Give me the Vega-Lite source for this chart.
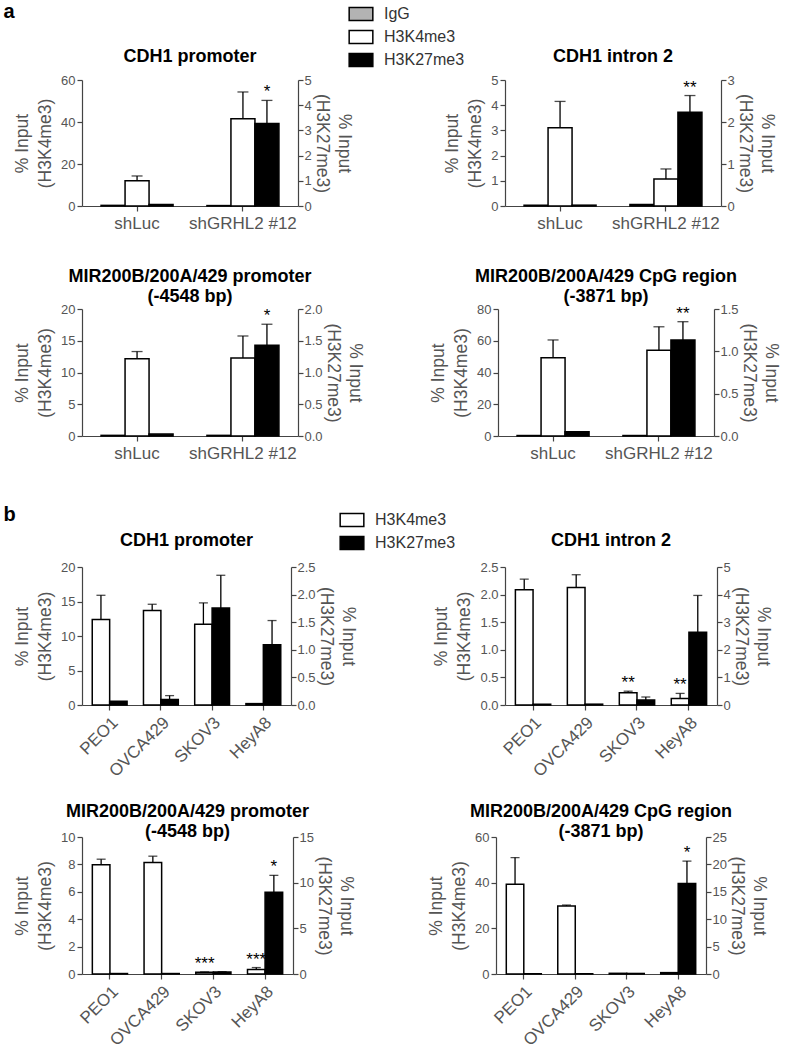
{
"$schema": "https://vega.github.io/schema/vega-lite/v6.json",
"padding": {"left": 3, "top": 1, "right": 0, "bottom": 5},
"config": {
  "font": "Liberation Sans",
  "view": {"stroke": null},
  "axis": {"grid": false, "labelColor": "#555", "titleColor": "#555", "titleFontWeight": "normal", "labelFontSize": 13, "titleFontSize": 17.5, "domainColor": "#444", "tickColor": "#444", "tickSize": 5, "domainWidth": 1.2, "tickWidth": 1.2, "titleLineHeight": 23, "titlePadding": 6},
  "axisRight": {"titlePadding": 1, "labelPadding": 1, "tickSize": 5, "titleLineHeight": 22},
  "axisX": {"labelFontSize": 17, "labelPadding": 4},
  "title": {"fontSize": 18, "fontWeight": "bold", "color": "#000", "lineHeight": 20},
  "text": {"color": "#000"}
},
"data": {"values": [
  {"panel":"a1","group":"shLuc","series":"IgG","v":0.3},
  {"panel":"a1","group":"shLuc","series":"H3K4me3","v":12,"hi":14.3},
  {"panel":"a1","group":"shLuc","series":"H3K27me3","v":0.06},
  {"panel":"a1","group":"shGRHL2 #12","series":"IgG","v":0.2},
  {"panel":"a1","group":"shGRHL2 #12","series":"H3K4me3","v":41.6,"hi":54.3},
  {"panel":"a1","group":"shGRHL2 #12","series":"H3K27me3","v":3.27,"hi":4.19,"star":"*"},
  {"panel":"a2","group":"shLuc","series":"IgG","v":0.03},
  {"panel":"a2","group":"shLuc","series":"H3K4me3","v":3.11,"hi":4.15},
  {"panel":"a2","group":"shLuc","series":"H3K27me3","v":0.02},
  {"panel":"a2","group":"shGRHL2 #12","series":"IgG","v":0.06},
  {"panel":"a2","group":"shGRHL2 #12","series":"H3K4me3","v":1.07,"hi":1.47},
  {"panel":"a2","group":"shGRHL2 #12","series":"H3K27me3","v":2.23,"hi":2.63,"star":"**"},
  {"panel":"a3","group":"shLuc","series":"IgG","v":0.1},
  {"panel":"a3","group":"shLuc","series":"H3K4me3","v":12.15,"hi":13.3},
  {"panel":"a3","group":"shLuc","series":"H3K27me3","v":0.03},
  {"panel":"a3","group":"shGRHL2 #12","series":"IgG","v":0.1},
  {"panel":"a3","group":"shGRHL2 #12","series":"H3K4me3","v":12.3,"hi":15.75},
  {"panel":"a3","group":"shGRHL2 #12","series":"H3K27me3","v":1.43,"hi":1.76,"star":"*"},
  {"panel":"a4","group":"shLuc","series":"IgG","v":0.3},
  {"panel":"a4","group":"shLuc","series":"H3K4me3","v":49.3,"hi":60.5},
  {"panel":"a4","group":"shLuc","series":"H3K27me3","v":0.05},
  {"panel":"a4","group":"shGRHL2 #12","series":"IgG","v":0.3},
  {"panel":"a4","group":"shGRHL2 #12","series":"H3K4me3","v":54,"hi":68.8},
  {"panel":"a4","group":"shGRHL2 #12","series":"H3K27me3","v":1.135,"hi":1.35,"star":"**"},
  {"panel":"b1","group":"PEO1","series":"H3K4me3","v":12.4,"hi":15.9},
  {"panel":"b1","group":"PEO1","series":"H3K27me3","v":0.067},
  {"panel":"b1","group":"OVCA429","series":"H3K4me3","v":13.7,"hi":14.6},
  {"panel":"b1","group":"OVCA429","series":"H3K27me3","v":0.1,"hi":0.17},
  {"panel":"b1","group":"SKOV3","series":"H3K4me3","v":11.7,"hi":14.8},
  {"panel":"b1","group":"SKOV3","series":"H3K27me3","v":1.755,"hi":2.35},
  {"panel":"b1","group":"HeyA8","series":"H3K4me3","v":0.2},
  {"panel":"b1","group":"HeyA8","series":"H3K27me3","v":1.09,"hi":1.53},
  {"panel":"b2","group":"PEO1","series":"H3K4me3","v":2.09,"hi":2.28},
  {"panel":"b2","group":"PEO1","series":"H3K27me3","v":0.03},
  {"panel":"b2","group":"OVCA429","series":"H3K4me3","v":2.13,"hi":2.36},
  {"panel":"b2","group":"OVCA429","series":"H3K27me3","v":0.03},
  {"panel":"b2","group":"SKOV3","series":"H3K4me3","v":0.22,"hi":0.25,"star":"**"},
  {"panel":"b2","group":"SKOV3","series":"H3K27me3","v":0.18,"hi":0.29},
  {"panel":"b2","group":"HeyA8","series":"H3K4me3","v":0.12,"hi":0.21,"star":"**"},
  {"panel":"b2","group":"HeyA8","series":"H3K27me3","v":2.64,"hi":3.97},
  {"panel":"b3","group":"PEO1","series":"H3K4me3","v":7.98,"hi":8.38},
  {"panel":"b3","group":"PEO1","series":"H3K27me3","v":0.05},
  {"panel":"b3","group":"OVCA429","series":"H3K4me3","v":8.13,"hi":8.6},
  {"panel":"b3","group":"OVCA429","series":"H3K27me3","v":0.05},
  {"panel":"b3","group":"SKOV3","series":"H3K4me3","v":0.12,"hi":0.15,"star":"***"},
  {"panel":"b3","group":"SKOV3","series":"H3K27me3","v":0.22,"hi":0.26},
  {"panel":"b3","group":"HeyA8","series":"H3K4me3","v":0.32,"hi":0.47,"star":"***"},
  {"panel":"b3","group":"HeyA8","series":"H3K27me3","v":8.96,"hi":10.8,"star":"*"},
  {"panel":"b4","group":"PEO1","series":"H3K4me3","v":39.3,"hi":51},
  {"panel":"b4","group":"PEO1","series":"H3K27me3","v":0.05},
  {"panel":"b4","group":"OVCA429","series":"H3K4me3","v":29.8,"hi":30.2},
  {"panel":"b4","group":"OVCA429","series":"H3K27me3","v":0.05},
  {"panel":"b4","group":"SKOV3","series":"H3K4me3","v":0.3},
  {"panel":"b4","group":"SKOV3","series":"H3K27me3","v":0.1},
  {"panel":"b4","group":"HeyA8","series":"H3K4me3","v":0.6},
  {"panel":"b4","group":"HeyA8","series":"H3K27me3","v":16.5,"hi":20.6,"star":"*"}
]},
"spacing": 44,
"resolve": {"scale": {"fill": "independent", "xOffset": "independent"}},
"vconcat": [
{
  "title": {"text": "a", "anchor": "start", "frame": "bounds", "dx": -10, "offset": -21, "fontSize": 20},
  "spacing": 37,
  "resolve": {"scale": {"xOffset": "independent"}},
  "vconcat": [
  {
    "spacing": 90,
    "resolve": {"scale": {"xOffset": "independent"}},
    "hconcat": [
    {
      "width": 216, "height": 126,
      "title": {"text": "CDH1 promoter", "offset": 8},
      "transform": [{"filter": "datum.panel === 'a1'"}],
      "encoding": {
        "x": {"field": "group", "type": "nominal", "scale": {"domain": ["shLuc", "shGRHL2 #12"], "paddingInner": 0.32, "paddingOuter": 0.18}, "axis": {"title": null, "labelAngle": 0}},
        "xOffset": {"field": "series", "type": "nominal", "scale": {"domain": ["IgG", "H3K4me3", "H3K27me3"]}}
      },
      "layer": [
        {"transform": [{"filter": "datum.series !== 'H3K27me3'"}],
         "layer": [
          {"mark": {"type": "bar", "stroke": "black", "strokeWidth": 1.5},
           "encoding": {"y": {"field": "v", "type": "quantitative", "scale": {"domain": [0, 60]}, "axis": {"orient": "left", "values": [0, 20, 40, 60], "title": ["% Input", "(H3K4me3)"]}},
             "fill": {"field": "series", "type": "nominal", "scale": {"domain": ["IgG", "H3K4me3", "H3K27me3"], "range": ["#b3b3b3", "#ffffff", "#000000"]},
               "legend": {"orient": "none", "legendX": 266, "legendY": -79, "title": null, "symbolType": "M-1,-0.55H1V0.55H-1Z", "symbolSize": 560, "labelFontSize": 16, "labelColor": "#333", "rowPadding": -2.5, "labelOffset": 10, "symbolOpacity": 1, "encode": {"symbols": {"update": {"stroke": {"value": "black"}, "strokeWidth": {"value": 1.5}}}}}}}},
          {"transform": [{"filter": "datum.hi != null"}], "mark": {"type": "rule", "color": "black", "strokeWidth": 1.3},
           "encoding": {"y": {"field": "v", "type": "quantitative", "scale": {"domain": [0, 60]}, "axis": {"orient": "left", "values": [0, 20, 40, 60], "title": ["% Input", "(H3K4me3)"]}}, "y2": {"field": "hi"}}},
          {"transform": [{"filter": "datum.hi != null"}], "mark": {"type": "tick", "color": "black", "size": 11, "thickness": 1.3},
           "encoding": {"y": {"field": "hi", "type": "quantitative", "scale": {"domain": [0, 60]}, "axis": {"orient": "left", "values": [0, 20, 40, 60], "title": ["% Input", "(H3K4me3)"]}}}},
          {"transform": [{"filter": "datum.star != null"}], "mark": {"type": "text", "fontSize": 17, "dy": -3, "baseline": "alphabetic"},
           "encoding": {"y": {"field": "hi", "type": "quantitative", "scale": {"domain": [0, 60]}, "axis": {"orient": "left", "values": [0, 20, 40, 60], "title": ["% Input", "(H3K4me3)"]}}, "text": {"field": "star"}}}
        ]},
        {"transform": [{"filter": "datum.series === 'H3K27me3'"}],
         "layer": [
          {"mark": {"type": "bar", "stroke": "black", "strokeWidth": 1.5},
           "encoding": {"y": {"field": "v", "type": "quantitative", "scale": {"domain": [0, 5]}, "axis": {"orient": "right", "values": [0, 1, 2, 3, 4, 5], "title": ["% Input", "(H3K27me3)"]}},
             "fill": {"field": "series", "type": "nominal", "scale": {"domain": ["IgG", "H3K4me3", "H3K27me3"], "range": ["#b3b3b3", "#ffffff", "#000000"]},
               "legend": {"orient": "none", "legendX": 266, "legendY": -79, "title": null, "symbolType": "M-1,-0.55H1V0.55H-1Z", "symbolSize": 560, "labelFontSize": 16, "labelColor": "#333", "rowPadding": -2.5, "labelOffset": 10, "symbolOpacity": 1, "encode": {"symbols": {"update": {"stroke": {"value": "black"}, "strokeWidth": {"value": 1.5}}}}}}}},
          {"transform": [{"filter": "datum.hi != null"}], "mark": {"type": "rule", "color": "black", "strokeWidth": 1.3},
           "encoding": {"y": {"field": "v", "type": "quantitative", "scale": {"domain": [0, 5]}, "axis": {"orient": "right", "values": [0, 1, 2, 3, 4, 5], "title": ["% Input", "(H3K27me3)"]}}, "y2": {"field": "hi"}}},
          {"transform": [{"filter": "datum.hi != null"}], "mark": {"type": "tick", "color": "black", "size": 11, "thickness": 1.3},
           "encoding": {"y": {"field": "hi", "type": "quantitative", "scale": {"domain": [0, 5]}, "axis": {"orient": "right", "values": [0, 1, 2, 3, 4, 5], "title": ["% Input", "(H3K27me3)"]}}}},
          {"transform": [{"filter": "datum.star != null"}], "mark": {"type": "text", "fontSize": 17, "dy": -3, "baseline": "alphabetic"},
           "encoding": {"y": {"field": "hi", "type": "quantitative", "scale": {"domain": [0, 5]}, "axis": {"orient": "right", "values": [0, 1, 2, 3, 4, 5], "title": ["% Input", "(H3K27me3)"]}}, "text": {"field": "star"}}}
        ]}
      ],
      "resolve": {"scale": {"y": "independent"}}
    },
    {
      "width": 216, "height": 126,
      "title": {"text": "CDH1 intron 2", "offset": 8},
      "transform": [{"filter": "datum.panel === 'a2'"}],
      "encoding": {
        "x": {"field": "group", "type": "nominal", "scale": {"domain": ["shLuc", "shGRHL2 #12"], "paddingInner": 0.32, "paddingOuter": 0.18}, "axis": {"title": null, "labelAngle": 0}},
        "xOffset": {"field": "series", "type": "nominal", "scale": {"domain": ["IgG", "H3K4me3", "H3K27me3"]}}
      },
      "layer": [
        {"transform": [{"filter": "datum.series !== 'H3K27me3'"}],
         "layer": [
          {"mark": {"type": "bar", "stroke": "black", "strokeWidth": 1.5},
           "encoding": {"y": {"field": "v", "type": "quantitative", "scale": {"domain": [0, 5]}, "axis": {"orient": "left", "values": [0, 1, 2, 3, 4, 5], "title": ["% Input", "(H3K4me3)"]}},
             "fill": {"field": "series", "type": "nominal", "scale": {"domain": ["IgG", "H3K4me3", "H3K27me3"], "range": ["#b3b3b3", "#ffffff", "#000000"]},
               "legend": {"orient": "none", "legendX": 266, "legendY": -79, "title": null, "symbolType": "M-1,-0.55H1V0.55H-1Z", "symbolSize": 560, "labelFontSize": 16, "labelColor": "#333", "rowPadding": -2.5, "labelOffset": 10, "symbolOpacity": 1, "encode": {"symbols": {"update": {"stroke": {"value": "black"}, "strokeWidth": {"value": 1.5}}}}}}}},
          {"transform": [{"filter": "datum.hi != null"}], "mark": {"type": "rule", "color": "black", "strokeWidth": 1.3},
           "encoding": {"y": {"field": "v", "type": "quantitative", "scale": {"domain": [0, 5]}, "axis": {"orient": "left", "values": [0, 1, 2, 3, 4, 5], "title": ["% Input", "(H3K4me3)"]}}, "y2": {"field": "hi"}}},
          {"transform": [{"filter": "datum.hi != null"}], "mark": {"type": "tick", "color": "black", "size": 11, "thickness": 1.3},
           "encoding": {"y": {"field": "hi", "type": "quantitative", "scale": {"domain": [0, 5]}, "axis": {"orient": "left", "values": [0, 1, 2, 3, 4, 5], "title": ["% Input", "(H3K4me3)"]}}}},
          {"transform": [{"filter": "datum.star != null"}], "mark": {"type": "text", "fontSize": 17, "dy": -3, "baseline": "alphabetic"},
           "encoding": {"y": {"field": "hi", "type": "quantitative", "scale": {"domain": [0, 5]}, "axis": {"orient": "left", "values": [0, 1, 2, 3, 4, 5], "title": ["% Input", "(H3K4me3)"]}}, "text": {"field": "star"}}}
        ]},
        {"transform": [{"filter": "datum.series === 'H3K27me3'"}],
         "layer": [
          {"mark": {"type": "bar", "stroke": "black", "strokeWidth": 1.5},
           "encoding": {"y": {"field": "v", "type": "quantitative", "scale": {"domain": [0, 3]}, "axis": {"orient": "right", "values": [0, 1, 2, 3], "title": ["% Input", "(H3K27me3)"]}},
             "fill": {"field": "series", "type": "nominal", "scale": {"domain": ["IgG", "H3K4me3", "H3K27me3"], "range": ["#b3b3b3", "#ffffff", "#000000"]},
               "legend": {"orient": "none", "legendX": 266, "legendY": -79, "title": null, "symbolType": "M-1,-0.55H1V0.55H-1Z", "symbolSize": 560, "labelFontSize": 16, "labelColor": "#333", "rowPadding": -2.5, "labelOffset": 10, "symbolOpacity": 1, "encode": {"symbols": {"update": {"stroke": {"value": "black"}, "strokeWidth": {"value": 1.5}}}}}}}},
          {"transform": [{"filter": "datum.hi != null"}], "mark": {"type": "rule", "color": "black", "strokeWidth": 1.3},
           "encoding": {"y": {"field": "v", "type": "quantitative", "scale": {"domain": [0, 3]}, "axis": {"orient": "right", "values": [0, 1, 2, 3], "title": ["% Input", "(H3K27me3)"]}}, "y2": {"field": "hi"}}},
          {"transform": [{"filter": "datum.hi != null"}], "mark": {"type": "tick", "color": "black", "size": 11, "thickness": 1.3},
           "encoding": {"y": {"field": "hi", "type": "quantitative", "scale": {"domain": [0, 3]}, "axis": {"orient": "right", "values": [0, 1, 2, 3], "title": ["% Input", "(H3K27me3)"]}}}},
          {"transform": [{"filter": "datum.star != null"}], "mark": {"type": "text", "fontSize": 17, "dy": -3, "baseline": "alphabetic"},
           "encoding": {"y": {"field": "hi", "type": "quantitative", "scale": {"domain": [0, 3]}, "axis": {"orient": "right", "values": [0, 1, 2, 3], "title": ["% Input", "(H3K27me3)"]}}, "text": {"field": "star"}}}
        ]}
      ],
      "resolve": {"scale": {"y": "independent"}}
    }
    ]
  },
  {
    "spacing": 65,
    "resolve": {"scale": {"xOffset": "independent"}},
    "hconcat": [
    {
      "width": 216, "height": 127,
      "title": {"text": ["MIR200B/200A/429 promoter", "(-4548 bp)"], "offset": -3},
      "transform": [{"filter": "datum.panel === 'a3'"}],
      "encoding": {
        "x": {"field": "group", "type": "nominal", "scale": {"domain": ["shLuc", "shGRHL2 #12"], "paddingInner": 0.32, "paddingOuter": 0.18}, "axis": {"title": null, "labelAngle": 0}},
        "xOffset": {"field": "series", "type": "nominal", "scale": {"domain": ["IgG", "H3K4me3", "H3K27me3"]}}
      },
      "layer": [
        {"transform": [{"filter": "datum.series !== 'H3K27me3'"}],
         "layer": [
          {"mark": {"type": "bar", "stroke": "black", "strokeWidth": 1.5},
           "encoding": {"y": {"field": "v", "type": "quantitative", "scale": {"domain": [0, 20]}, "axis": {"orient": "left", "values": [0, 5, 10, 15, 20], "title": ["% Input", "(H3K4me3)"]}},
             "fill": {"field": "series", "type": "nominal", "scale": {"domain": ["IgG", "H3K4me3", "H3K27me3"], "range": ["#b3b3b3", "#ffffff", "#000000"]},
               "legend": {"orient": "none", "legendX": 266, "legendY": -79, "title": null, "symbolType": "M-1,-0.55H1V0.55H-1Z", "symbolSize": 560, "labelFontSize": 16, "labelColor": "#333", "rowPadding": -2.5, "labelOffset": 10, "symbolOpacity": 1, "encode": {"symbols": {"update": {"stroke": {"value": "black"}, "strokeWidth": {"value": 1.5}}}}}}}},
          {"transform": [{"filter": "datum.hi != null"}], "mark": {"type": "rule", "color": "black", "strokeWidth": 1.3},
           "encoding": {"y": {"field": "v", "type": "quantitative", "scale": {"domain": [0, 20]}, "axis": {"orient": "left", "values": [0, 5, 10, 15, 20], "title": ["% Input", "(H3K4me3)"]}}, "y2": {"field": "hi"}}},
          {"transform": [{"filter": "datum.hi != null"}], "mark": {"type": "tick", "color": "black", "size": 11, "thickness": 1.3},
           "encoding": {"y": {"field": "hi", "type": "quantitative", "scale": {"domain": [0, 20]}, "axis": {"orient": "left", "values": [0, 5, 10, 15, 20], "title": ["% Input", "(H3K4me3)"]}}}},
          {"transform": [{"filter": "datum.star != null"}], "mark": {"type": "text", "fontSize": 17, "dy": -3, "baseline": "alphabetic"},
           "encoding": {"y": {"field": "hi", "type": "quantitative", "scale": {"domain": [0, 20]}, "axis": {"orient": "left", "values": [0, 5, 10, 15, 20], "title": ["% Input", "(H3K4me3)"]}}, "text": {"field": "star"}}}
        ]},
        {"transform": [{"filter": "datum.series === 'H3K27me3'"}],
         "layer": [
          {"mark": {"type": "bar", "stroke": "black", "strokeWidth": 1.5},
           "encoding": {"y": {"field": "v", "type": "quantitative", "scale": {"domain": [0, 2]}, "axis": {"orient": "right", "values": [0, 0.5, 1, 1.5, 2], "format": ".1f", "title": ["% Input", "(H3K27me3)"]}},
             "fill": {"field": "series", "type": "nominal", "scale": {"domain": ["IgG", "H3K4me3", "H3K27me3"], "range": ["#b3b3b3", "#ffffff", "#000000"]},
               "legend": {"orient": "none", "legendX": 266, "legendY": -79, "title": null, "symbolType": "M-1,-0.55H1V0.55H-1Z", "symbolSize": 560, "labelFontSize": 16, "labelColor": "#333", "rowPadding": -2.5, "labelOffset": 10, "symbolOpacity": 1, "encode": {"symbols": {"update": {"stroke": {"value": "black"}, "strokeWidth": {"value": 1.5}}}}}}}},
          {"transform": [{"filter": "datum.hi != null"}], "mark": {"type": "rule", "color": "black", "strokeWidth": 1.3},
           "encoding": {"y": {"field": "v", "type": "quantitative", "scale": {"domain": [0, 2]}, "axis": {"orient": "right", "values": [0, 0.5, 1, 1.5, 2], "format": ".1f", "title": ["% Input", "(H3K27me3)"]}}, "y2": {"field": "hi"}}},
          {"transform": [{"filter": "datum.hi != null"}], "mark": {"type": "tick", "color": "black", "size": 11, "thickness": 1.3},
           "encoding": {"y": {"field": "hi", "type": "quantitative", "scale": {"domain": [0, 2]}, "axis": {"orient": "right", "values": [0, 0.5, 1, 1.5, 2], "format": ".1f", "title": ["% Input", "(H3K27me3)"]}}}},
          {"transform": [{"filter": "datum.star != null"}], "mark": {"type": "text", "fontSize": 17, "dy": -3, "baseline": "alphabetic"},
           "encoding": {"y": {"field": "hi", "type": "quantitative", "scale": {"domain": [0, 2]}, "axis": {"orient": "right", "values": [0, 0.5, 1, 1.5, 2], "format": ".1f", "title": ["% Input", "(H3K27me3)"]}}, "text": {"field": "star"}}}
        ]}
      ],
      "resolve": {"scale": {"y": "independent"}}
    },
    {
      "width": 216, "height": 127,
      "title": {"text": ["MIR200B/200A/429 CpG region", "(-3871 bp)"], "offset": -3},
      "transform": [{"filter": "datum.panel === 'a4'"}],
      "encoding": {
        "x": {"field": "group", "type": "nominal", "scale": {"domain": ["shLuc", "shGRHL2 #12"], "paddingInner": 0.32, "paddingOuter": 0.18}, "axis": {"title": null, "labelAngle": 0}},
        "xOffset": {"field": "series", "type": "nominal", "scale": {"domain": ["IgG", "H3K4me3", "H3K27me3"]}}
      },
      "layer": [
        {"transform": [{"filter": "datum.series !== 'H3K27me3'"}],
         "layer": [
          {"mark": {"type": "bar", "stroke": "black", "strokeWidth": 1.5},
           "encoding": {"y": {"field": "v", "type": "quantitative", "scale": {"domain": [0, 80]}, "axis": {"orient": "left", "values": [0, 20, 40, 60, 80], "title": ["% Input", "(H3K4me3)"]}},
             "fill": {"field": "series", "type": "nominal", "scale": {"domain": ["IgG", "H3K4me3", "H3K27me3"], "range": ["#b3b3b3", "#ffffff", "#000000"]},
               "legend": {"orient": "none", "legendX": 266, "legendY": -79, "title": null, "symbolType": "M-1,-0.55H1V0.55H-1Z", "symbolSize": 560, "labelFontSize": 16, "labelColor": "#333", "rowPadding": -2.5, "labelOffset": 10, "symbolOpacity": 1, "encode": {"symbols": {"update": {"stroke": {"value": "black"}, "strokeWidth": {"value": 1.5}}}}}}}},
          {"transform": [{"filter": "datum.hi != null"}], "mark": {"type": "rule", "color": "black", "strokeWidth": 1.3},
           "encoding": {"y": {"field": "v", "type": "quantitative", "scale": {"domain": [0, 80]}, "axis": {"orient": "left", "values": [0, 20, 40, 60, 80], "title": ["% Input", "(H3K4me3)"]}}, "y2": {"field": "hi"}}},
          {"transform": [{"filter": "datum.hi != null"}], "mark": {"type": "tick", "color": "black", "size": 11, "thickness": 1.3},
           "encoding": {"y": {"field": "hi", "type": "quantitative", "scale": {"domain": [0, 80]}, "axis": {"orient": "left", "values": [0, 20, 40, 60, 80], "title": ["% Input", "(H3K4me3)"]}}}},
          {"transform": [{"filter": "datum.star != null"}], "mark": {"type": "text", "fontSize": 17, "dy": -3, "baseline": "alphabetic"},
           "encoding": {"y": {"field": "hi", "type": "quantitative", "scale": {"domain": [0, 80]}, "axis": {"orient": "left", "values": [0, 20, 40, 60, 80], "title": ["% Input", "(H3K4me3)"]}}, "text": {"field": "star"}}}
        ]},
        {"transform": [{"filter": "datum.series === 'H3K27me3'"}],
         "layer": [
          {"mark": {"type": "bar", "stroke": "black", "strokeWidth": 1.5},
           "encoding": {"y": {"field": "v", "type": "quantitative", "scale": {"domain": [0, 1.5]}, "axis": {"orient": "right", "values": [0, 0.5, 1, 1.5], "format": ".1f", "title": ["% Input", "(H3K27me3)"]}},
             "fill": {"field": "series", "type": "nominal", "scale": {"domain": ["IgG", "H3K4me3", "H3K27me3"], "range": ["#b3b3b3", "#ffffff", "#000000"]},
               "legend": {"orient": "none", "legendX": 266, "legendY": -79, "title": null, "symbolType": "M-1,-0.55H1V0.55H-1Z", "symbolSize": 560, "labelFontSize": 16, "labelColor": "#333", "rowPadding": -2.5, "labelOffset": 10, "symbolOpacity": 1, "encode": {"symbols": {"update": {"stroke": {"value": "black"}, "strokeWidth": {"value": 1.5}}}}}}}},
          {"transform": [{"filter": "datum.hi != null"}], "mark": {"type": "rule", "color": "black", "strokeWidth": 1.3},
           "encoding": {"y": {"field": "v", "type": "quantitative", "scale": {"domain": [0, 1.5]}, "axis": {"orient": "right", "values": [0, 0.5, 1, 1.5], "format": ".1f", "title": ["% Input", "(H3K27me3)"]}}, "y2": {"field": "hi"}}},
          {"transform": [{"filter": "datum.hi != null"}], "mark": {"type": "tick", "color": "black", "size": 11, "thickness": 1.3},
           "encoding": {"y": {"field": "hi", "type": "quantitative", "scale": {"domain": [0, 1.5]}, "axis": {"orient": "right", "values": [0, 0.5, 1, 1.5], "format": ".1f", "title": ["% Input", "(H3K27me3)"]}}}},
          {"transform": [{"filter": "datum.star != null"}], "mark": {"type": "text", "fontSize": 17, "dy": -3, "baseline": "alphabetic"},
           "encoding": {"y": {"field": "hi", "type": "quantitative", "scale": {"domain": [0, 1.5]}, "axis": {"orient": "right", "values": [0, 0.5, 1, 1.5], "format": ".1f", "title": ["% Input", "(H3K27me3)"]}}, "text": {"field": "star"}}}
        ]}
      ],
      "resolve": {"scale": {"y": "independent"}}
    }
    ]
  }
  ]
},
{
  "title": {"text": "b", "anchor": "start", "frame": "bounds", "dx": -10, "offset": -18, "fontSize": 20},
  "spacing": 23,
  "resolve": {"scale": {"xOffset": "independent"}},
  "vconcat": [
  {
    "spacing": 75,
    "resolve": {"scale": {"xOffset": "independent"}},
    "hconcat": [
    {
      "width": 209, "height": 138,
      "title": {"text": "CDH1 promoter", "offset": 11},
      "transform": [{"filter": "datum.panel === 'b1'"}],
      "encoding": {
        "x": {"field": "group", "type": "nominal", "scale": {"domain": ["PEO1", "OVCA429", "SKOV3", "HeyA8"], "paddingInner": 0.32, "paddingOuter": 0.2}, "axis": {"title": null, "labelAngle": -45}},
        "xOffset": {"field": "series", "type": "nominal", "scale": {"domain": ["H3K4me3", "H3K27me3"]}}
      },
      "layer": [
        {"transform": [{"filter": "datum.series !== 'H3K27me3'"}],
         "layer": [
          {"mark": {"type": "bar", "stroke": "black", "strokeWidth": 1.5},
           "encoding": {"y": {"field": "v", "type": "quantitative", "scale": {"domain": [0, 20]}, "axis": {"orient": "left", "values": [0, 5, 10, 15, 20], "title": ["% Input", "(H3K4me3)"]}},
             "fill": {"field": "series", "type": "nominal", "scale": {"domain": ["H3K4me3", "H3K27me3"], "range": ["#ffffff", "#000000"]},
               "legend": {"orient": "none", "legendX": 257, "legendY": -60, "title": null, "symbolType": "M-1,-0.55H1V0.55H-1Z", "symbolSize": 560, "labelFontSize": 16, "labelColor": "#333", "rowPadding": -2.5, "labelOffset": 10, "symbolOpacity": 1, "encode": {"symbols": {"update": {"stroke": {"value": "black"}, "strokeWidth": {"value": 1.5}}}}}}}},
          {"transform": [{"filter": "datum.hi != null"}], "mark": {"type": "rule", "color": "black", "strokeWidth": 1.3},
           "encoding": {"y": {"field": "v", "type": "quantitative", "scale": {"domain": [0, 20]}, "axis": {"orient": "left", "values": [0, 5, 10, 15, 20], "title": ["% Input", "(H3K4me3)"]}}, "y2": {"field": "hi"}}},
          {"transform": [{"filter": "datum.hi != null"}], "mark": {"type": "tick", "color": "black", "size": 9, "thickness": 1.3},
           "encoding": {"y": {"field": "hi", "type": "quantitative", "scale": {"domain": [0, 20]}, "axis": {"orient": "left", "values": [0, 5, 10, 15, 20], "title": ["% Input", "(H3K4me3)"]}}}},
          {"transform": [{"filter": "datum.star != null"}], "mark": {"type": "text", "fontSize": 17, "dy": -3, "baseline": "alphabetic"},
           "encoding": {"y": {"field": "hi", "type": "quantitative", "scale": {"domain": [0, 20]}, "axis": {"orient": "left", "values": [0, 5, 10, 15, 20], "title": ["% Input", "(H3K4me3)"]}}, "text": {"field": "star"}}}
        ]},
        {"transform": [{"filter": "datum.series === 'H3K27me3'"}],
         "layer": [
          {"mark": {"type": "bar", "stroke": "black", "strokeWidth": 1.5},
           "encoding": {"y": {"field": "v", "type": "quantitative", "scale": {"domain": [0, 2.5]}, "axis": {"orient": "right", "values": [0, 0.5, 1, 1.5, 2, 2.5], "format": ".1f", "title": ["% Input", "(H3K27me3)"]}},
             "fill": {"field": "series", "type": "nominal", "scale": {"domain": ["H3K4me3", "H3K27me3"], "range": ["#ffffff", "#000000"]},
               "legend": {"orient": "none", "legendX": 257, "legendY": -60, "title": null, "symbolType": "M-1,-0.55H1V0.55H-1Z", "symbolSize": 560, "labelFontSize": 16, "labelColor": "#333", "rowPadding": -2.5, "labelOffset": 10, "symbolOpacity": 1, "encode": {"symbols": {"update": {"stroke": {"value": "black"}, "strokeWidth": {"value": 1.5}}}}}}}},
          {"transform": [{"filter": "datum.hi != null"}], "mark": {"type": "rule", "color": "black", "strokeWidth": 1.3},
           "encoding": {"y": {"field": "v", "type": "quantitative", "scale": {"domain": [0, 2.5]}, "axis": {"orient": "right", "values": [0, 0.5, 1, 1.5, 2, 2.5], "format": ".1f", "title": ["% Input", "(H3K27me3)"]}}, "y2": {"field": "hi"}}},
          {"transform": [{"filter": "datum.hi != null"}], "mark": {"type": "tick", "color": "black", "size": 9, "thickness": 1.3},
           "encoding": {"y": {"field": "hi", "type": "quantitative", "scale": {"domain": [0, 2.5]}, "axis": {"orient": "right", "values": [0, 0.5, 1, 1.5, 2, 2.5], "format": ".1f", "title": ["% Input", "(H3K27me3)"]}}}},
          {"transform": [{"filter": "datum.star != null"}], "mark": {"type": "text", "fontSize": 17, "dy": -3, "baseline": "alphabetic"},
           "encoding": {"y": {"field": "hi", "type": "quantitative", "scale": {"domain": [0, 2.5]}, "axis": {"orient": "right", "values": [0, 0.5, 1, 1.5, 2, 2.5], "format": ".1f", "title": ["% Input", "(H3K27me3)"]}}, "text": {"field": "star"}}}
        ]}
      ],
      "resolve": {"scale": {"y": "independent"}}
    },
    {
      "width": 212, "height": 138,
      "title": {"text": "CDH1 intron 2", "offset": 11},
      "transform": [{"filter": "datum.panel === 'b2'"}],
      "encoding": {
        "x": {"field": "group", "type": "nominal", "scale": {"domain": ["PEO1", "OVCA429", "SKOV3", "HeyA8"], "paddingInner": 0.32, "paddingOuter": 0.2}, "axis": {"title": null, "labelAngle": -45}},
        "xOffset": {"field": "series", "type": "nominal", "scale": {"domain": ["H3K4me3", "H3K27me3"]}}
      },
      "layer": [
        {"transform": [{"filter": "datum.series !== 'H3K27me3'"}],
         "layer": [
          {"mark": {"type": "bar", "stroke": "black", "strokeWidth": 1.5},
           "encoding": {"y": {"field": "v", "type": "quantitative", "scale": {"domain": [0, 2.5]}, "axis": {"orient": "left", "values": [0, 0.5, 1, 1.5, 2, 2.5], "format": ".1f", "title": ["% Input", "(H3K4me3)"]}},
             "fill": {"field": "series", "type": "nominal", "scale": {"domain": ["H3K4me3", "H3K27me3"], "range": ["#ffffff", "#000000"]},
               "legend": {"orient": "none", "legendX": 257, "legendY": -60, "title": null, "symbolType": "M-1,-0.55H1V0.55H-1Z", "symbolSize": 560, "labelFontSize": 16, "labelColor": "#333", "rowPadding": -2.5, "labelOffset": 10, "symbolOpacity": 1, "encode": {"symbols": {"update": {"stroke": {"value": "black"}, "strokeWidth": {"value": 1.5}}}}}}}},
          {"transform": [{"filter": "datum.hi != null"}], "mark": {"type": "rule", "color": "black", "strokeWidth": 1.3},
           "encoding": {"y": {"field": "v", "type": "quantitative", "scale": {"domain": [0, 2.5]}, "axis": {"orient": "left", "values": [0, 0.5, 1, 1.5, 2, 2.5], "format": ".1f", "title": ["% Input", "(H3K4me3)"]}}, "y2": {"field": "hi"}}},
          {"transform": [{"filter": "datum.hi != null"}], "mark": {"type": "tick", "color": "black", "size": 9, "thickness": 1.3},
           "encoding": {"y": {"field": "hi", "type": "quantitative", "scale": {"domain": [0, 2.5]}, "axis": {"orient": "left", "values": [0, 0.5, 1, 1.5, 2, 2.5], "format": ".1f", "title": ["% Input", "(H3K4me3)"]}}}},
          {"transform": [{"filter": "datum.star != null"}], "mark": {"type": "text", "fontSize": 17, "dy": -3, "baseline": "alphabetic"},
           "encoding": {"y": {"field": "hi", "type": "quantitative", "scale": {"domain": [0, 2.5]}, "axis": {"orient": "left", "values": [0, 0.5, 1, 1.5, 2, 2.5], "format": ".1f", "title": ["% Input", "(H3K4me3)"]}}, "text": {"field": "star"}}}
        ]},
        {"transform": [{"filter": "datum.series === 'H3K27me3'"}],
         "layer": [
          {"mark": {"type": "bar", "stroke": "black", "strokeWidth": 1.5},
           "encoding": {"y": {"field": "v", "type": "quantitative", "scale": {"domain": [0, 5]}, "axis": {"orient": "right", "values": [0, 1, 2, 3, 4, 5], "title": ["% Input", "(H3K27me3)"]}},
             "fill": {"field": "series", "type": "nominal", "scale": {"domain": ["H3K4me3", "H3K27me3"], "range": ["#ffffff", "#000000"]},
               "legend": {"orient": "none", "legendX": 257, "legendY": -60, "title": null, "symbolType": "M-1,-0.55H1V0.55H-1Z", "symbolSize": 560, "labelFontSize": 16, "labelColor": "#333", "rowPadding": -2.5, "labelOffset": 10, "symbolOpacity": 1, "encode": {"symbols": {"update": {"stroke": {"value": "black"}, "strokeWidth": {"value": 1.5}}}}}}}},
          {"transform": [{"filter": "datum.hi != null"}], "mark": {"type": "rule", "color": "black", "strokeWidth": 1.3},
           "encoding": {"y": {"field": "v", "type": "quantitative", "scale": {"domain": [0, 5]}, "axis": {"orient": "right", "values": [0, 1, 2, 3, 4, 5], "title": ["% Input", "(H3K27me3)"]}}, "y2": {"field": "hi"}}},
          {"transform": [{"filter": "datum.hi != null"}], "mark": {"type": "tick", "color": "black", "size": 9, "thickness": 1.3},
           "encoding": {"y": {"field": "hi", "type": "quantitative", "scale": {"domain": [0, 5]}, "axis": {"orient": "right", "values": [0, 1, 2, 3, 4, 5], "title": ["% Input", "(H3K27me3)"]}}}},
          {"transform": [{"filter": "datum.star != null"}], "mark": {"type": "text", "fontSize": 17, "dy": -3, "baseline": "alphabetic"},
           "encoding": {"y": {"field": "hi", "type": "quantitative", "scale": {"domain": [0, 5]}, "axis": {"orient": "right", "values": [0, 1, 2, 3, 4, 5], "title": ["% Input", "(H3K27me3)"]}}, "text": {"field": "star"}}}
        ]}
      ],
      "resolve": {"scale": {"y": "independent"}}
    }
    ]
  },
  {
    "spacing": 72,
    "resolve": {"scale": {"xOffset": "independent"}},
    "hconcat": [
    {
      "width": 211, "height": 137,
      "title": {"text": ["MIR200B/200A/429 promoter", "(-4548 bp)"], "offset": -10},
      "transform": [{"filter": "datum.panel === 'b3'"}],
      "encoding": {
        "x": {"field": "group", "type": "nominal", "scale": {"domain": ["PEO1", "OVCA429", "SKOV3", "HeyA8"], "paddingInner": 0.32, "paddingOuter": 0.2}, "axis": {"title": null, "labelAngle": -45}},
        "xOffset": {"field": "series", "type": "nominal", "scale": {"domain": ["H3K4me3", "H3K27me3"]}}
      },
      "layer": [
        {"transform": [{"filter": "datum.series !== 'H3K27me3'"}],
         "layer": [
          {"mark": {"type": "bar", "stroke": "black", "strokeWidth": 1.5},
           "encoding": {"y": {"field": "v", "type": "quantitative", "scale": {"domain": [0, 10]}, "axis": {"orient": "left", "values": [0, 2, 4, 6, 8, 10], "title": ["% Input", "(H3K4me3)"]}},
             "fill": {"field": "series", "type": "nominal", "scale": {"domain": ["H3K4me3", "H3K27me3"], "range": ["#ffffff", "#000000"]},
               "legend": {"orient": "none", "legendX": 257, "legendY": -60, "title": null, "symbolType": "M-1,-0.55H1V0.55H-1Z", "symbolSize": 560, "labelFontSize": 16, "labelColor": "#333", "rowPadding": -2.5, "labelOffset": 10, "symbolOpacity": 1, "encode": {"symbols": {"update": {"stroke": {"value": "black"}, "strokeWidth": {"value": 1.5}}}}}}}},
          {"transform": [{"filter": "datum.hi != null"}], "mark": {"type": "rule", "color": "black", "strokeWidth": 1.3},
           "encoding": {"y": {"field": "v", "type": "quantitative", "scale": {"domain": [0, 10]}, "axis": {"orient": "left", "values": [0, 2, 4, 6, 8, 10], "title": ["% Input", "(H3K4me3)"]}}, "y2": {"field": "hi"}}},
          {"transform": [{"filter": "datum.hi != null"}], "mark": {"type": "tick", "color": "black", "size": 9, "thickness": 1.3},
           "encoding": {"y": {"field": "hi", "type": "quantitative", "scale": {"domain": [0, 10]}, "axis": {"orient": "left", "values": [0, 2, 4, 6, 8, 10], "title": ["% Input", "(H3K4me3)"]}}}},
          {"transform": [{"filter": "datum.star != null"}], "mark": {"type": "text", "fontSize": 17, "dy": -3, "baseline": "alphabetic"},
           "encoding": {"y": {"field": "hi", "type": "quantitative", "scale": {"domain": [0, 10]}, "axis": {"orient": "left", "values": [0, 2, 4, 6, 8, 10], "title": ["% Input", "(H3K4me3)"]}}, "text": {"field": "star"}}}
        ]},
        {"transform": [{"filter": "datum.series === 'H3K27me3'"}],
         "layer": [
          {"mark": {"type": "bar", "stroke": "black", "strokeWidth": 1.5},
           "encoding": {"y": {"field": "v", "type": "quantitative", "scale": {"domain": [0, 15]}, "axis": {"orient": "right", "values": [0, 5, 10, 15], "title": ["% Input", "(H3K27me3)"]}},
             "fill": {"field": "series", "type": "nominal", "scale": {"domain": ["H3K4me3", "H3K27me3"], "range": ["#ffffff", "#000000"]},
               "legend": {"orient": "none", "legendX": 257, "legendY": -60, "title": null, "symbolType": "M-1,-0.55H1V0.55H-1Z", "symbolSize": 560, "labelFontSize": 16, "labelColor": "#333", "rowPadding": -2.5, "labelOffset": 10, "symbolOpacity": 1, "encode": {"symbols": {"update": {"stroke": {"value": "black"}, "strokeWidth": {"value": 1.5}}}}}}}},
          {"transform": [{"filter": "datum.hi != null"}], "mark": {"type": "rule", "color": "black", "strokeWidth": 1.3},
           "encoding": {"y": {"field": "v", "type": "quantitative", "scale": {"domain": [0, 15]}, "axis": {"orient": "right", "values": [0, 5, 10, 15], "title": ["% Input", "(H3K27me3)"]}}, "y2": {"field": "hi"}}},
          {"transform": [{"filter": "datum.hi != null"}], "mark": {"type": "tick", "color": "black", "size": 9, "thickness": 1.3},
           "encoding": {"y": {"field": "hi", "type": "quantitative", "scale": {"domain": [0, 15]}, "axis": {"orient": "right", "values": [0, 5, 10, 15], "title": ["% Input", "(H3K27me3)"]}}}},
          {"transform": [{"filter": "datum.star != null"}], "mark": {"type": "text", "fontSize": 17, "dy": -3, "baseline": "alphabetic"},
           "encoding": {"y": {"field": "hi", "type": "quantitative", "scale": {"domain": [0, 15]}, "axis": {"orient": "right", "values": [0, 5, 10, 15], "title": ["% Input", "(H3K27me3)"]}}, "text": {"field": "star"}}}
        ]}
      ],
      "resolve": {"scale": {"y": "independent"}}
    },
    {
      "width": 210, "height": 137,
      "title": {"text": ["MIR200B/200A/429 CpG region", "(-3871 bp)"], "offset": -10},
      "transform": [{"filter": "datum.panel === 'b4'"}],
      "encoding": {
        "x": {"field": "group", "type": "nominal", "scale": {"domain": ["PEO1", "OVCA429", "SKOV3", "HeyA8"], "paddingInner": 0.32, "paddingOuter": 0.2}, "axis": {"title": null, "labelAngle": -45}},
        "xOffset": {"field": "series", "type": "nominal", "scale": {"domain": ["H3K4me3", "H3K27me3"]}}
      },
      "layer": [
        {"transform": [{"filter": "datum.series !== 'H3K27me3'"}],
         "layer": [
          {"mark": {"type": "bar", "stroke": "black", "strokeWidth": 1.5},
           "encoding": {"y": {"field": "v", "type": "quantitative", "scale": {"domain": [0, 60]}, "axis": {"orient": "left", "values": [0, 20, 40, 60], "title": ["% Input", "(H3K4me3)"]}},
             "fill": {"field": "series", "type": "nominal", "scale": {"domain": ["H3K4me3", "H3K27me3"], "range": ["#ffffff", "#000000"]},
               "legend": {"orient": "none", "legendX": 257, "legendY": -60, "title": null, "symbolType": "M-1,-0.55H1V0.55H-1Z", "symbolSize": 560, "labelFontSize": 16, "labelColor": "#333", "rowPadding": -2.5, "labelOffset": 10, "symbolOpacity": 1, "encode": {"symbols": {"update": {"stroke": {"value": "black"}, "strokeWidth": {"value": 1.5}}}}}}}},
          {"transform": [{"filter": "datum.hi != null"}], "mark": {"type": "rule", "color": "black", "strokeWidth": 1.3},
           "encoding": {"y": {"field": "v", "type": "quantitative", "scale": {"domain": [0, 60]}, "axis": {"orient": "left", "values": [0, 20, 40, 60], "title": ["% Input", "(H3K4me3)"]}}, "y2": {"field": "hi"}}},
          {"transform": [{"filter": "datum.hi != null"}], "mark": {"type": "tick", "color": "black", "size": 9, "thickness": 1.3},
           "encoding": {"y": {"field": "hi", "type": "quantitative", "scale": {"domain": [0, 60]}, "axis": {"orient": "left", "values": [0, 20, 40, 60], "title": ["% Input", "(H3K4me3)"]}}}},
          {"transform": [{"filter": "datum.star != null"}], "mark": {"type": "text", "fontSize": 17, "dy": -3, "baseline": "alphabetic"},
           "encoding": {"y": {"field": "hi", "type": "quantitative", "scale": {"domain": [0, 60]}, "axis": {"orient": "left", "values": [0, 20, 40, 60], "title": ["% Input", "(H3K4me3)"]}}, "text": {"field": "star"}}}
        ]},
        {"transform": [{"filter": "datum.series === 'H3K27me3'"}],
         "layer": [
          {"mark": {"type": "bar", "stroke": "black", "strokeWidth": 1.5},
           "encoding": {"y": {"field": "v", "type": "quantitative", "scale": {"domain": [0, 25]}, "axis": {"orient": "right", "values": [0, 5, 10, 15, 20, 25], "title": ["% Input", "(H3K27me3)"]}},
             "fill": {"field": "series", "type": "nominal", "scale": {"domain": ["H3K4me3", "H3K27me3"], "range": ["#ffffff", "#000000"]},
               "legend": {"orient": "none", "legendX": 257, "legendY": -60, "title": null, "symbolType": "M-1,-0.55H1V0.55H-1Z", "symbolSize": 560, "labelFontSize": 16, "labelColor": "#333", "rowPadding": -2.5, "labelOffset": 10, "symbolOpacity": 1, "encode": {"symbols": {"update": {"stroke": {"value": "black"}, "strokeWidth": {"value": 1.5}}}}}}}},
          {"transform": [{"filter": "datum.hi != null"}], "mark": {"type": "rule", "color": "black", "strokeWidth": 1.3},
           "encoding": {"y": {"field": "v", "type": "quantitative", "scale": {"domain": [0, 25]}, "axis": {"orient": "right", "values": [0, 5, 10, 15, 20, 25], "title": ["% Input", "(H3K27me3)"]}}, "y2": {"field": "hi"}}},
          {"transform": [{"filter": "datum.hi != null"}], "mark": {"type": "tick", "color": "black", "size": 9, "thickness": 1.3},
           "encoding": {"y": {"field": "hi", "type": "quantitative", "scale": {"domain": [0, 25]}, "axis": {"orient": "right", "values": [0, 5, 10, 15, 20, 25], "title": ["% Input", "(H3K27me3)"]}}}},
          {"transform": [{"filter": "datum.star != null"}], "mark": {"type": "text", "fontSize": 17, "dy": -3, "baseline": "alphabetic"},
           "encoding": {"y": {"field": "hi", "type": "quantitative", "scale": {"domain": [0, 25]}, "axis": {"orient": "right", "values": [0, 5, 10, 15, 20, 25], "title": ["% Input", "(H3K27me3)"]}}, "text": {"field": "star"}}}
        ]}
      ],
      "resolve": {"scale": {"y": "independent"}}
    }
    ]
  }
  ]
}
]
}
